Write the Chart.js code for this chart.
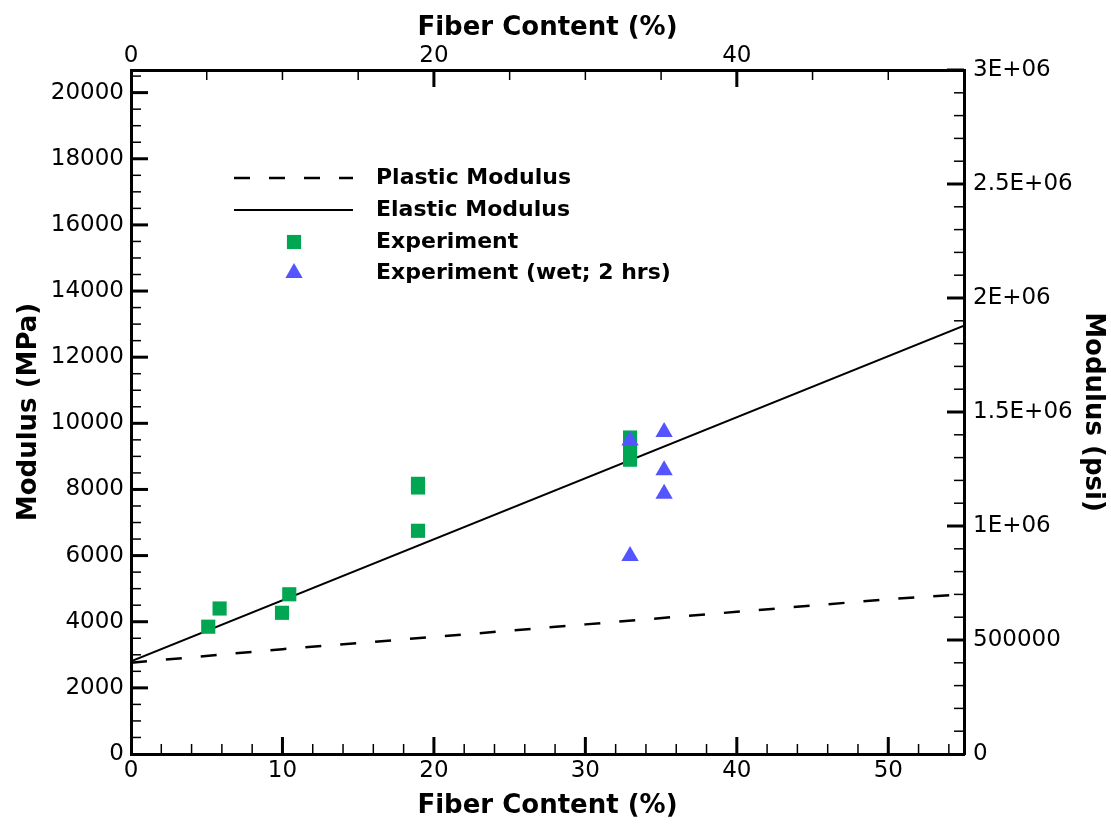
<!DOCTYPE html>
<html><head><meta charset="utf-8">
<script src="https://cdn.jsdelivr.net/npm/chart.js@4/dist/chart.umd.min.js"></script>
<style>html,body{margin:0;padding:0;background:#fff;}canvas{display:block;}</style>
</head><body>
<canvas id="c" width="1111" height="824"></canvas>
<script>
// ---- data ----
const fiberMin = 0;
const fiberMax = 55;
const elasticX = [0, 55];
const elasticY = [2800, 12950];
const plasticX = [0, 10, 20, 30, 40, 50, 55];
const plasticY = [2760, 3170, 3540, 3920, 4300, 4680, 4830];
const expX = [5.1, 5.85, 9.97, 10.45, 18.95, 18.95, 18.95, 32.95, 32.95, 32.95];
const expY = [3850, 4400, 4270, 4830, 6750, 8060, 8170, 9570, 9200, 8900];
const wetX = [32.95, 32.95, 35.2, 35.2, 35.2];
const wetY = [9480, 5990, 9740, 8580, 7870];
const seriesLabels = ['Plastic Modulus', 'Elastic Modulus', 'Experiment', 'Experiment (wet; 2 hrs)'];
const fiberTicksBottom = [0, 10, 20, 30, 40, 50];
const fiberTicksTop = [0, 20, 40];
const mpaTickValues = [0, 2000, 4000, 6000, 8000, 10000, 12000, 14000, 16000, 18000, 20000];
const psiTickValues = [0, 500000, 1000000, 1500000, 2000000, 2500000, 3000000];
const psiTickLabels = ['0', '500000', '1E+06', '1.5E+06', '2E+06', '2.5E+06', '3E+06'];
const psiPerMPa = 145.0377;
const psiMax = 3000000;
const xTitle = 'Fiber Content (%)';
const yTitle = 'Modulus (MPa)';
const y2Title = 'Modulus (psi)';

const pts = (xs, ys) => xs.map((x, i) => ({x: x, y: ys[i]}));
const GREEN = '#00A651';
const BLUE = '#5555FF';
const FAM = '"DejaVu Sans", sans-serif';

const tickFont = {family: FAM, size: 23};
const titleFont = {family: FAM, size: 26, weight: 'bold'};
const setTicks = arr => s => { s.ticks = arr.map(v => ({value: v})); };
const plain = v => String(v);

const innerTicks = {
  id: 'innerTicks',
  afterDatasetsDraw(chart) {
    const ctx = chart.ctx;
    const a = chart.chartArea;
    const specs = [
      {id: 'x', major: 10, minor: 2, side: 'bottom'},
      {id: 'x2', major: 20, minor: 5, side: 'top'},
      {id: 'y', major: 2000, minor: 500, side: 'left'},
      {id: 'y2', major: 500000, minor: 100000, side: 'right'}
    ];
    ctx.save();
    ctx.strokeStyle = '#000';
    specs.forEach(s => {
      const sc = chart.scales[s.id];
      const n = Math.floor((sc.max - sc.min) / s.minor + 1e-9);
      for (let i = 1; i <= n; i++) {
        const v = sc.min + i * s.minor;
        const isMajor = Math.abs(v / s.major - Math.round(v / s.major)) < 1e-9;
        const len = isMajor ? 17 : 10;
        ctx.lineWidth = isMajor ? 3 : 1.5;
        const p = sc.getPixelForValue(v);
        ctx.beginPath();
        if (s.side === 'bottom') { ctx.moveTo(p, a.bottom); ctx.lineTo(p, a.bottom - len); }
        if (s.side === 'top') { ctx.moveTo(p, a.top); ctx.lineTo(p, a.top + len); }
        if (s.side === 'left') { ctx.moveTo(a.left, p); ctx.lineTo(a.left + len, p); }
        if (s.side === 'right') { ctx.moveTo(a.right, p); ctx.lineTo(a.right - len, p); }
        ctx.stroke();
      }
    });
    ctx.restore();
  }
};

const innerLegend = {
  id: 'innerLegend',
  afterDraw(chart) {
    const ctx = chart.ctx;
    const rows = [178, 210, 242, 273];
    const x0 = 234, x1 = 353, xm = 294, xt = 376;
    ctx.save();
    chart.data.datasets.forEach((ds, i) => {
      const y = rows[i];
      if (ds.showLine) {
        ctx.strokeStyle = ds.borderColor;
        ctx.lineWidth = ds.borderWidth;
        ctx.setLineDash(ds.borderDash || []);
        ctx.beginPath(); ctx.moveTo(x0, y); ctx.lineTo(x1, y); ctx.stroke();
        ctx.setLineDash([]);
      } else {
        ctx.fillStyle = ds.backgroundColor;
        ctx.beginPath();
        const r = ds.pointRadius;
        if (ds.pointStyle === 'rect') {
          const h = Math.SQRT1_2 * r;
          ctx.rect(xm - h, y - h, 2 * h, 2 * h);
        } else {
          for (let k = 0; k < 3; k++) {
            const ang = k * 2 * Math.PI / 3;
            const px = xm + Math.sin(ang) * r, py = y - Math.cos(ang) * r;
            if (k === 0) ctx.moveTo(px, py); else ctx.lineTo(px, py);
          }
          ctx.closePath();
        }
        ctx.fill();
      }
      ctx.fillStyle = '#000';
      ctx.font = 'bold 22px ' + FAM;
      ctx.textBaseline = 'middle';
      ctx.textAlign = 'left';
      ctx.fillText(ds.label, xt, y);
    });
    ctx.restore();
  }
};

new Chart(document.getElementById('c'), {
  type: 'scatter',
  data: {
    datasets: [
      {label: seriesLabels[0], data: pts(plasticX, plasticY), showLine: true, borderColor: '#000', borderWidth: 2.5,
       borderDash: [16, 19], pointRadius: 0, order: 3, tension: 0},
      {label: seriesLabels[1], data: pts(elasticX, elasticY), showLine: true, borderColor: '#000', borderWidth: 2,
       pointRadius: 0, order: 2},
      {label: seriesLabels[2], data: pts(expX, expY), pointStyle: 'rect', pointRadius: 10, pointHoverRadius: 10,
       backgroundColor: GREEN, borderColor: GREEN, borderWidth: 0, order: 1},
      {label: seriesLabels[3], data: pts(wetX, wetY), pointStyle: 'triangle', pointRadius: 10, pointHoverRadius: 10,
       backgroundColor: BLUE, borderColor: BLUE, borderWidth: 0, order: 0}
    ]
  },
  options: {
    responsive: false,
    animation: false,
    devicePixelRatio: 1,
    layout: {padding: 0},
    plugins: {legend: {display: false}, tooltip: {enabled: false}},
    scales: {
      x: {
        type: 'linear', position: 'bottom', min: fiberMin, max: fiberMax,
        afterBuildTicks: setTicks(fiberTicksBottom),
        ticks: {font: tickFont, color: '#000', padding: 3, maxRotation: 0, autoSkip: false, callback: plain},
        grid: {display: true, drawOnChartArea: false, drawTicks: false},
        border: {display: true, width: 3, color: '#000'},
        title: {display: true, text: xTitle, font: titleFont, color: '#000', padding: {top: 2, bottom: 2.4}},
        afterFit: s => { s.height = 70; }
      },
      x2: {
        type: 'linear', position: 'top', min: fiberMin, max: fiberMax,
        afterBuildTicks: setTicks(fiberTicksTop),
        ticks: {font: tickFont, color: '#000', padding: 0, maxRotation: 0, autoSkip: false, callback: plain},
        grid: {display: true, drawOnChartArea: false, drawTicks: false},
        border: {display: true, width: 3, color: '#000'},
        title: {display: true, text: xTitle, font: titleFont, color: '#000', padding: {top: 12.4, bottom: 0}},
        afterFit: s => { s.height = 70; }
      },
      y: {
        type: 'linear', position: 'left', min: 0, max: psiMax / psiPerMPa,
        afterBuildTicks: setTicks(mpaTickValues),
        ticks: {font: tickFont, color: '#000', padding: 7, autoSkip: false, callback: plain},
        grid: {display: true, drawOnChartArea: false, drawTicks: false},
        border: {display: true, width: 3, color: '#000'},
        title: {display: true, text: yTitle, font: titleFont, color: '#000', padding: {top: 14, bottom: 0}},
        afterFit: s => { s.width = 131; }
      },
      y2: {
        type: 'linear', position: 'right', min: 0, max: psiMax,
        afterBuildTicks: setTicks(psiTickValues),
        ticks: {font: tickFont, color: '#000', padding: 9, autoSkip: false,
          callback: v => { const i = psiTickValues.indexOf(v); return i >= 0 ? psiTickLabels[i] : ''; }},
        grid: {display: true, drawOnChartArea: false, drawTicks: false},
        border: {display: true, width: 3, color: '#000'},
        title: {display: true, text: y2Title, font: titleFont, color: '#000', padding: {top: 2.4, bottom: 0}},
        afterFit: s => { s.width = 147; }
      }
    }
  },
  plugins: [innerTicks, innerLegend]
});
</script>
</body></html>
